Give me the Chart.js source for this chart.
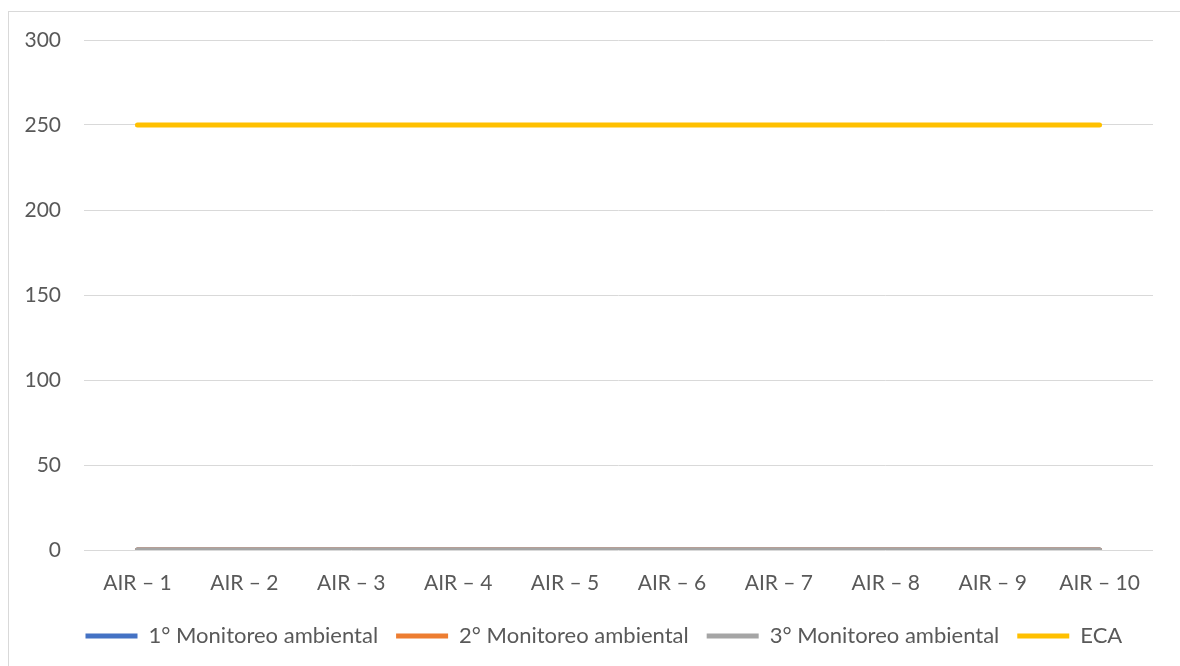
<!DOCTYPE html>
<html>
<head>
<meta charset="utf-8">
<script src="https://cdn.jsdelivr.net/npm/chart.js@4"></script>
<style>
  html, body { margin: 0; padding: 0; background: #fff; overflow: hidden; }
  #frame { position: absolute; left: 8px; top: 11px; width: 1220px; height: 700px; border: 1px solid #d9d9d9; box-sizing: border-box; }
  #wrap { position: absolute; left: 0; top: 0; width: 1180px; height: 666px; }
</style>
</head>
<body>
<div id="frame"></div>
<div id="wrap"><canvas id="c" width="1180" height="666"></canvas></div>
<script>
const categories = ['AIR – 1', 'AIR – 2', 'AIR – 3', 'AIR – 4', 'AIR – 5', 'AIR – 6', 'AIR – 7', 'AIR – 8', 'AIR – 9', 'AIR – 10'];
const monitoreo1 = [0, 0, 0, 0, 0, 0, 0, 0, 0, 0];
const monitoreo2 = [0, 0, 0, 0, 0, 0, 0, 0, 0, 0];
const monitoreo3 = [0, 0, 0, 0, 0, 0, 0, 0, 0, 0];
const eca = [250, 250, 250, 250, 250, 250, 250, 250, 250, 250];
const yTicks = [0, 50, 100, 150, 200, 250, 300];

const FONT = 'Lato';
const TEXT = '#595959';

function series(label, data, color, order) {
  return {
    label, data,
    borderColor: color, backgroundColor: color,
    borderWidth: 5, borderCapStyle: 'round', borderJoinStyle: 'round',
    pointRadius: 0, pointHoverRadius: 0, tension: 0,
    pointStyle: 'line', order
  };
}

// Legend starts under the plot, not at the canvas edge
const legendShift = {
  id: 'legendShift',
  afterLayout(chart) { chart.legend.left = 67.5; }
};

new Chart(document.getElementById('c'), {
  type: 'line',
  plugins: [legendShift],
  data: {
    labels: categories,
    datasets: [
      series('1° Monitoreo ambiental', monitoreo1, '#4472C4', 4),
      series('2° Monitoreo ambiental', monitoreo2, '#ED7D31', 3),
      series('3° Monitoreo ambiental', monitoreo3, '#A5A5A5', 2),
      series('ECA', eca, '#FFC000', 1)
    ]
  },
  options: {
    responsive: false,
    animation: false,
    events: [],
    layout: { padding: { left: 0, right: 27, top: 40, bottom: 9 } },
    plugins: {
      tooltip: { enabled: false },
      legend: {
        position: 'bottom',
        align: 'start',
        labels: {
          usePointStyle: true,
          pointStyleWidth: 52,
          padding: 18,
          color: TEXT,
          font: { family: FONT, size: 22 },
          sort: (a, b) => a.datasetIndex - b.datasetIndex
        }
      }
    },
    scales: {
      x: {
        offset: true,
        afterFit: (scale) => { scale.height = 57; },
        grid: { display: false, drawTicks: false },
        border: { display: false },
        ticks: { color: TEXT, font: { family: FONT, size: 21 }, padding: 21, maxRotation: 0, autoSkip: false }
      },
      y: {
        min: 0, max: 300,
        afterBuildTicks: (scale) => { scale.ticks = yTicks.map(v => ({ value: v })); },
        afterFit: (scale) => { scale.width = 84; },
        grid: { color: '#d9d9d9', lineWidth: 1, drawTicks: false },
        border: { display: false },
        ticks: { color: TEXT, font: { family: FONT, size: 21 }, padding: 23 }
      }
    }
  }
});
</script>
</body>
</html>
